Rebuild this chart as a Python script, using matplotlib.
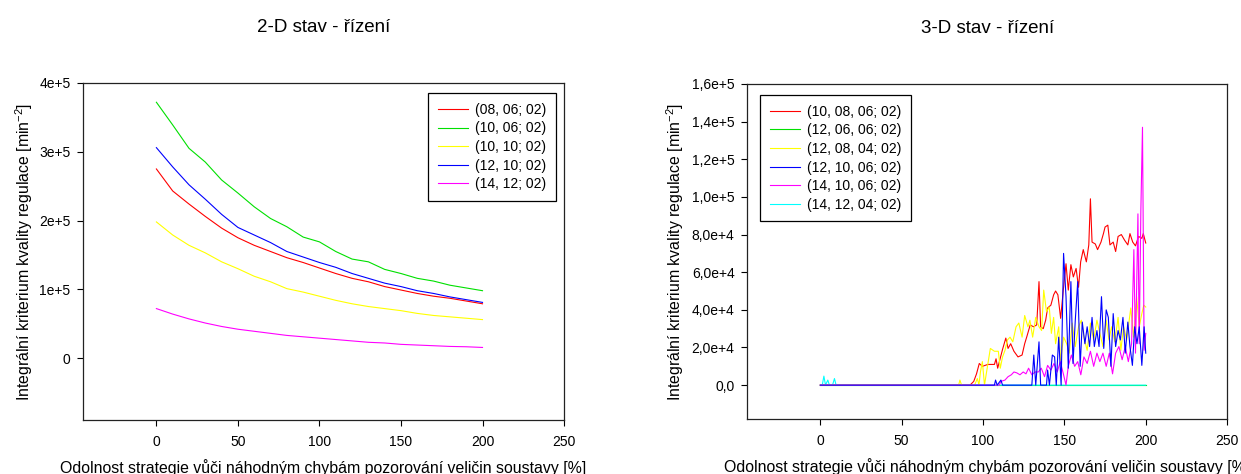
import matplotlib
matplotlib.use("Agg")
import matplotlib.pyplot as plt

plt.rcParams['font.family'] = ['Liberation Sans', 'DejaVu Sans']
plt.rcParams['mathtext.fontset'] = 'custom'
plt.rcParams['mathtext.rm'] = 'Liberation Sans'
plt.rcParams['mathtext.it'] = 'Liberation Sans:italic'

# ---- 2-D panel: x every 10 %, values in 1e5
x_2d = [0, 10, 20, 30, 40, 50, 60, 70, 80, 90, 100,
        110, 120, 130, 140, 150, 160, 170, 180, 190, 200]
y_08_06 = [2.75, 2.43, 2.24, 2.06, 1.89, 1.75, 1.64, 1.55, 1.46, 1.39, 1.31,
           1.23, 1.16, 1.11, 1.04, 0.99, 0.94, 0.90, 0.87, 0.83, 0.79]
y_10_06 = [3.72, 3.39, 3.05, 2.85, 2.59, 2.40, 2.20, 2.03, 1.91, 1.76, 1.69,
           1.55, 1.44, 1.40, 1.29, 1.23, 1.16, 1.12, 1.06, 1.02, 0.98]
y_10_10 = [1.98, 1.79, 1.64, 1.53, 1.40, 1.30, 1.19, 1.11, 1.01, 0.96, 0.90,
           0.84, 0.79, 0.75, 0.72, 0.69, 0.65, 0.62, 0.60, 0.58, 0.56]
y_12_10 = [3.06, 2.78, 2.52, 2.31, 2.09, 1.90, 1.79, 1.68, 1.55, 1.47, 1.39,
           1.32, 1.23, 1.16, 1.09, 1.04, 0.98, 0.94, 0.89, 0.85, 0.81]
y_14_12 = [0.72, 0.64, 0.57, 0.51, 0.46, 0.42, 0.39, 0.36, 0.33, 0.31, 0.29,
           0.27, 0.25, 0.23, 0.22, 0.20, 0.19, 0.18, 0.17, 0.165, 0.155]
labels_2d = ['(08, 06; 02)', '(10, 06; 02)', '(10, 10; 02)', '(12, 10; 02)', '(14, 12; 02)']
series_2d = [y_08_06, y_10_06, y_10_10, y_12_10, y_14_12]
colors_2d = ['#ff0000', '#00e000', '#ffff00', '#0000ff', '#ff00ff']
yticks_2d = [0, 1e5, 2e5, 3e5, 4e5]
yticklabels_2d = ['0', '1e+5', '2e+5', '3e+5', '4e+5']

# ---- 3-D panel: read points (x in %, values in 1e4)
x_r = [0, 92, 94.3, 96, 97.7, 99.6, 103, 107, 108, 109, 112, 114, 115.4, 117, 119, 121.5,
       124, 125.6, 127, 129, 131, 133, 134.4, 135.4, 137, 138.5, 139.7, 141.7, 143.4,
       144.6, 146, 147.7, 149.5, 151, 152.4, 154, 155.5, 157.2, 158.7, 160, 161.6,
       163.5, 165, 166, 167, 169, 170.4, 172.5, 174, 175, 176.7, 178, 180, 181.5,
       183, 185, 187, 189, 190.3, 192, 193.7, 195.6, 197.6, 198.5, 200]
y_r = [0, 0, 0.2, 0.6, 1.15, 1.0, 1.1, 1.1, 1.4, 0.9, 1.9, 2.5, 1.95, 2.2, 1.8, 1.5,
       1.6, 2.2, 2.6, 3.2, 3.1, 3.2, 5.5, 3.1, 3.0, 3.45, 4.1, 4.25, 4.8,
       5.0, 4.8, 3.55, 5.2, 6.45, 5.05, 6.4, 5.75, 6.2, 5.2, 6.55, 7.2,
       6.55, 7.45, 9.9, 7.6, 7.5, 7.2, 7.6, 8.05, 8.4, 8.5, 7.45, 7.6, 7.1,
       7.9, 8.0, 7.7, 7.45, 8.05, 7.6, 7.4, 7.9, 7.8, 8.05, 7.55]

x_g = [0, 200]
y_g = [0, 0]

x_y = [0, 85, 85.8, 86.8, 94.8, 96.5, 97.5, 98.4, 99.6, 100.9, 102, 104.5, 107, 109.4,
       110.6, 112, 113.5, 115, 116.6, 118.3, 120.3, 122, 124, 125.6, 127.6, 128.8,
       130.5, 132.4, 134.4, 136, 137.3, 139, 140.7, 142, 143.4, 144.6, 146.5, 147.7,
       149.5, 151.4, 153, 154.8, 156.7, 158.7, 160.4, 162, 164, 166, 168, 170, 171.8,
       173.7, 175.7, 177.4, 179, 181, 183, 184.7, 186.4, 188.3, 190.8, 192.5, 194.4,
       196, 197.6, 198.8, 200]
y_y = [0, 0, 0.27, 0, 0, 0.35, 0, 0.7, 1.25, 0, 0.6, 1.95, 1.8, 1.8,
       0.9, 1.5, 1.85, 2.4, 2.55, 2.3, 3.1, 3.3, 2.55, 3.7, 3.1, 3.45,
       2.55, 3.6, 3.1, 2.9, 5.05, 3.9, 4.15, 2.75, 3.6, 2.2, 3.1, 1.3,
       2.55, 2.2, 1.7, 3.3, 2.05, 3.1, 3.45, 2.55, 1.85, 3.3, 2.4, 3.45, 2.75,
       2.05, 3.45, 2.4, 3.1, 2.3, 3.6, 1.85, 3.1, 2.4, 4.1, 2.55, 4.7,
       3.1, 3.8, 4.25, 4.15]

x_b = [0, 107, 107.7, 108.7, 111, 112, 130, 131.2, 132.4, 134.4, 135.4, 139, 139.7,
       140.8, 142.6, 144, 145, 146.5, 148, 149.5, 151, 152.4, 154, 155.3, 156.7,
       158.2, 159.7, 161, 162.6, 164, 165.5, 167, 168.4, 170, 171.3, 172.8, 174.2,
       175.7, 177, 178.6, 180, 181.5, 183, 184.4, 186, 187.4, 189, 190.3, 191.8,
       193.2, 194.6, 196, 197.6, 199, 200]
y_b = [0, 0, 0.27, 0, 0.27, 0, 0, 1.6, 0, 2.3, 0, 0, 0.8,
       0, 1.6, 1.5, 0, 2.55, 0, 7.0, 4.7, 0.9, 5.5, 1.15, 3.45,
       5.5, 1.0, 3.35, 2.2, 3.1, 2.05, 3.6, 2.05, 2.9, 2.05, 4.7, 1.95,
       4.0, 3.6, 1.0, 3.8, 2.05, 2.9, 2.4, 3.6, 1.7, 3.35, 2.05, 1.05,
       3.1, 2.2, 3.1, 1.05, 3.1, 1.7]

x_m = [0, 110, 111, 113.5, 115.4, 117.4, 119, 120.8, 122.7, 124.7, 126.4, 128, 130,
       132, 134, 135.8, 137.8, 139.7, 141.7, 143.6, 145.6, 147.5, 149.5, 151, 152.4,
       154.3, 156.3, 158.2, 160.1, 162, 164, 166, 168, 170, 171.8, 173.7, 175.7,
       177.6, 179.6, 181.5, 183.5, 185.5, 187.4, 189.3, 191.3, 192.7, 193.7, 195.2,
       196, 197, 198, 199, 200]
y_m = [0, 0, 0.2, 0.27, 0.45, 0.55, 0.7, 0.65, 0.55, 0.7, 0.6, 0.9, 0.55,
       0.7, 0.7, 0.9, 0.45, 1.05, 0.8, 1.15, 0.7, 1.25, 0.55, 0, 1.0,
       1.6, 1.0, 1.25, 0.55, 1.5, 1.15, 1.8, 1.0, 1.7, 1.25, 1.7, 1.0,
       1.7, 0.6, 1.7, 2.05, 1.35, 2.05, 1.25, 2.2, 7.2, 1.7, 9.1,
       2.2, 9.3, 13.7, 1.85, 2.75]

x_c = [0, 1.2, 2.2, 3.2, 4.6, 5.6, 7.5, 8.7, 9.7, 200]
y_c = [0, 0, 0.48, 0, 0.27, 0, 0, 0.35, 0, 0]

labels_3d = ['(10, 08, 06; 02)', '(12, 06, 06; 02)', '(12, 08, 04; 02)',
             '(12, 10, 06; 02)', '(14, 10, 06; 02)', '(14, 12, 04; 02)']
series_3d = [(x_r, y_r), (x_g, y_g), (x_y, y_y), (x_b, y_b), (x_m, y_m), (x_c, y_c)]
colors_3d = ['#ff0000', '#00e000', '#ffff00', '#0000ff', '#ff00ff', '#00ffff']
# blue sits on top of the flat zero line, cyan only where blue has left it
zorders_3d = [2.0, 2.1, 2.3, 2.5, 2.4, 2.2]
yticks_3d = [0, 2e4, 4e4, 6e4, 8e4, 1e5, 1.2e5, 1.4e5, 1.6e5]
yticklabels_3d = ['0,0', '2,0e+4', '4,0e+4', '6,0e+4', '8,0e+4',
                  '1,0e+5', '1,2e+5', '1,4e+5', '1,6e+5']

xticks = [0, 50, 100, 150, 200, 250]
xlabel = 'Odolnost strategie vůči náhodným chybám pozorování veličin soustavy [%]'
ylabel = 'Integrální kriterium kvality regulace [min$^{\\mathrm{-2}}$]'


def style_axes(ax):
    for sp in ax.spines.values():
        sp.set_linewidth(0.9)
        sp.set_color('#222222')
    ax.tick_params(direction='out', length=4.5, width=0.8, labelsize=10)
    ax.tick_params(axis='y', pad=4.5)
    ax.tick_params(axis='x', pad=6)
    ax.set_xticks(xticks)
    ax.set_xlim(-45, 250)
    ax.set_xlabel(xlabel, fontsize=11.4, labelpad=7.5)


def make_legend(ax, loc, anchor):
    leg = ax.legend(loc=loc, bbox_to_anchor=anchor, borderaxespad=0,
                    fontsize=10, fancybox=False, framealpha=1, edgecolor='black',
                    handlelength=2.2, handletextpad=0.5, labelspacing=0.33,
                    borderpad=0.7)
    leg.get_frame().set_linewidth(0.9)
    return leg


fig = plt.figure(figsize=(12.41, 4.74), dpi=100)

ax1 = fig.add_axes([0.0669, 0.1139, 0.3876, 0.711])
for ys, lab, c in zip(series_2d, labels_2d, colors_2d):
    ax1.plot(x_2d, [v * 1e5 for v in ys], color=c, lw=0.8, label=lab)
style_axes(ax1)
ax1.set_ylim(-0.9e5, 4e5)
ax1.set_yticks(yticks_2d)
ax1.set_yticklabels(yticklabels_2d)
ax1.set_ylabel(ylabel, fontsize=11.4, labelpad=3)
ax1.set_title('2-D stav - řízení', fontsize=13.5, pad=37)
make_legend(ax1, 'upper right', (0.9834, 0.970))

ax2 = fig.add_axes([0.602, 0.116, 0.3868, 0.7068])
for (xs, ys), lab, c, z in zip(series_3d, labels_3d, colors_3d, zorders_3d):
    ax2.plot(xs, [v * 1e4 for v in ys], color=c, lw=0.8, label=lab, zorder=z)
style_axes(ax2)
ax2.set_ylim(-1.8e4, 1.6e5)
ax2.set_yticks(yticks_3d)
ax2.set_yticklabels(yticklabels_3d)
ax2.set_ylabel(ylabel, fontsize=11.4, labelpad=4)
ax2.set_title('3-D stav - řízení', fontsize=13.5, pad=37)
make_legend(ax2, 'upper left', (0.027, 0.967))

fig.savefig('out.png', dpi=100)
